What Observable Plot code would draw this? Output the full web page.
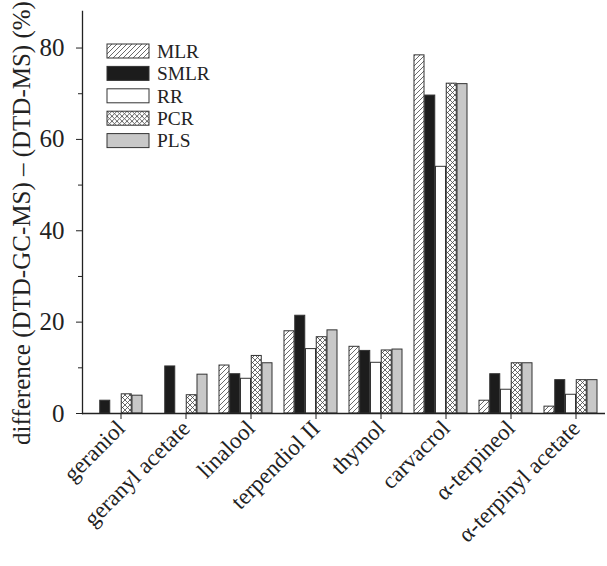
<!DOCTYPE html>
<html>
<head>
<meta charset="utf-8">
<script src="https://cdn.jsdelivr.net/npm/d3@7"></script>
<script src="https://cdn.jsdelivr.net/npm/@observablehq/plot@0.6"></script>
<style>
  html, body { margin: 0; padding: 0; background: #fff; }
  #chart svg { font-family: "Liberation Serif", "Times New Roman", serif; }
</style>
</head>
<body>
<div id="chart"></div>
<script>
// ---- data ----
const categories = ["geraniol", "geranyl acetate", "linalool", "terpendiol II", "thymol", "carvacrol", "α-terpineol", "α-terpinyl acetate"];
const methods = ["MLR", "SMLR", "RR", "PCR", "PLS"];
const MLR  = [0,   0,    10.5, 18.0, 14.6, 78.4, 2.8,  1.5];
const SMLR = [2.8, 10.3, 8.6,  21.4, 13.7, 69.6, 8.6,  7.3];
const RR   = [0,   0,    7.6,  14.1, 11.1, 54.0, 5.2,  4.1];
const PCR  = [4.2, 4.0,  12.6, 16.7, 13.8, 72.2, 11.0, 7.3];
const PLS  = [3.9, 8.5,  11.0, 18.2, 14.0, 72.1, 11.0, 7.3];
const yMajorTicks = [0, 20, 40, 60, 80];
const yMinorTicks = [10, 30, 50, 70];
const yLabel = "difference (DTD-GC-MS) – (DTD-MS) (%)";

const series = {MLR, SMLR, RR, PCR, PLS};
const fills = {
  MLR: "url(#pat-mlr)",
  SMLR: "#1c1c1c",
  RR: "#ffffff",
  PCR: "url(#pat-pcr)",
  PLS: "#c8c8c8"
};
const rows = methods.flatMap(m => categories.map((c, i) => ({category: c, method: m, value: series[m][i]})));

// ---- layout ----
const W = 607, H = 566;
const margin = {top: 11, right: 2, bottom: 153, left: 82};
const xOpts = {type: "band", domain: categories, paddingInner: 0.18, paddingOuter: 0.08};
const xScale = Plot.scale({x: {...xOpts, range: [margin.left, W - margin.right]}});
const slot = xScale.bandwidth / methods.length;

const barMarks = methods.map((m, i) => Plot.barY(rows.filter(d => d.method === m), {
  x: "category",
  y: "value",
  fill: fills[m],
  stroke: "#333",
  strokeWidth: 1,
  insetLeft: i * slot,
  insetRight: (methods.length - 1 - i) * slot
}));

const plot = Plot.plot({
  width: W,
  height: H,
  marginTop: margin.top,
  marginRight: margin.right,
  marginBottom: margin.bottom,
  marginLeft: margin.left,
  style: {fontFamily: "Liberation Serif, Times New Roman, serif", color: "#222", background: "#fff"},
  x: {...xOpts},
  y: {domain: [0, 88]},
  marks: [
    ...barMarks,
    Plot.ruleY([0], {stroke: "#222", strokeWidth: 1.3}),
    Plot.frame({anchor: "left", stroke: "#222", strokeWidth: 1.3}),
    Plot.axisY({ticks: yMajorTicks, tickSize: 6, tickPadding: 12, fontSize: 25, label: null, stroke: "#222"}),
    Plot.axisY({ticks: yMinorTicks, tickSize: 4, tickFormat: () => "", label: null, stroke: "#222"}),
    Plot.axisX({tickSize: 6, tickRotate: -45, tickPadding: 5, dx: 5, fontSize: 23, label: null, stroke: "#222"})
  ]
});

document.getElementById("chart").appendChild(plot);

// ---- patterns ----
const svg = d3.select(plot);
const defs = svg.insert("defs", ":first-child");
const pm = defs.append("pattern").attr("id", "pat-mlr").attr("patternUnits", "userSpaceOnUse")
  .attr("width", 5).attr("height", 5);
pm.append("rect").attr("width", 5).attr("height", 5).attr("fill", "#fff");
pm.append("path").attr("d", "M-1,1 L1,-1 M0,5 L5,0 M4,6 L6,4").attr("stroke", "#444").attr("stroke-width", 0.8);
const pp = defs.append("pattern").attr("id", "pat-pcr").attr("patternUnits", "userSpaceOnUse")
  .attr("width", 5).attr("height", 5);
pp.append("rect").attr("width", 5).attr("height", 5).attr("fill", "#fff");
pp.append("path").attr("d", "M-1,1 L1,-1 M0,5 L5,0 M4,6 L6,4 M-1,4 L1,6 M0,0 L5,5 M4,-1 L6,1").attr("stroke", "#444").attr("stroke-width", 0.8);

// ---- y axis label ----
svg.append("text")
  .attr("transform", `translate(30, 223) rotate(-90)`)
  .attr("text-anchor", "middle")
  .style("font-size", "25px")
  .attr("fill", "#222")
  .text(yLabel);

// ---- legend ----
const lg = svg.append("g").attr("transform", "translate(107, 44)");
methods.forEach((m, i) => {
  const g = lg.append("g").attr("transform", `translate(0, ${i * 22.4})`);
  g.append("rect").attr("width", 42).attr("height", 14).attr("fill", fills[m]).attr("stroke", "#333");
  g.append("text").attr("x", 50).attr("y", 7).attr("dy", "0.35em")
    .attr("text-anchor", "start").style("font-size", "19.4px").attr("fill", "#222").text(m);
});
</script>
</body>
</html>
